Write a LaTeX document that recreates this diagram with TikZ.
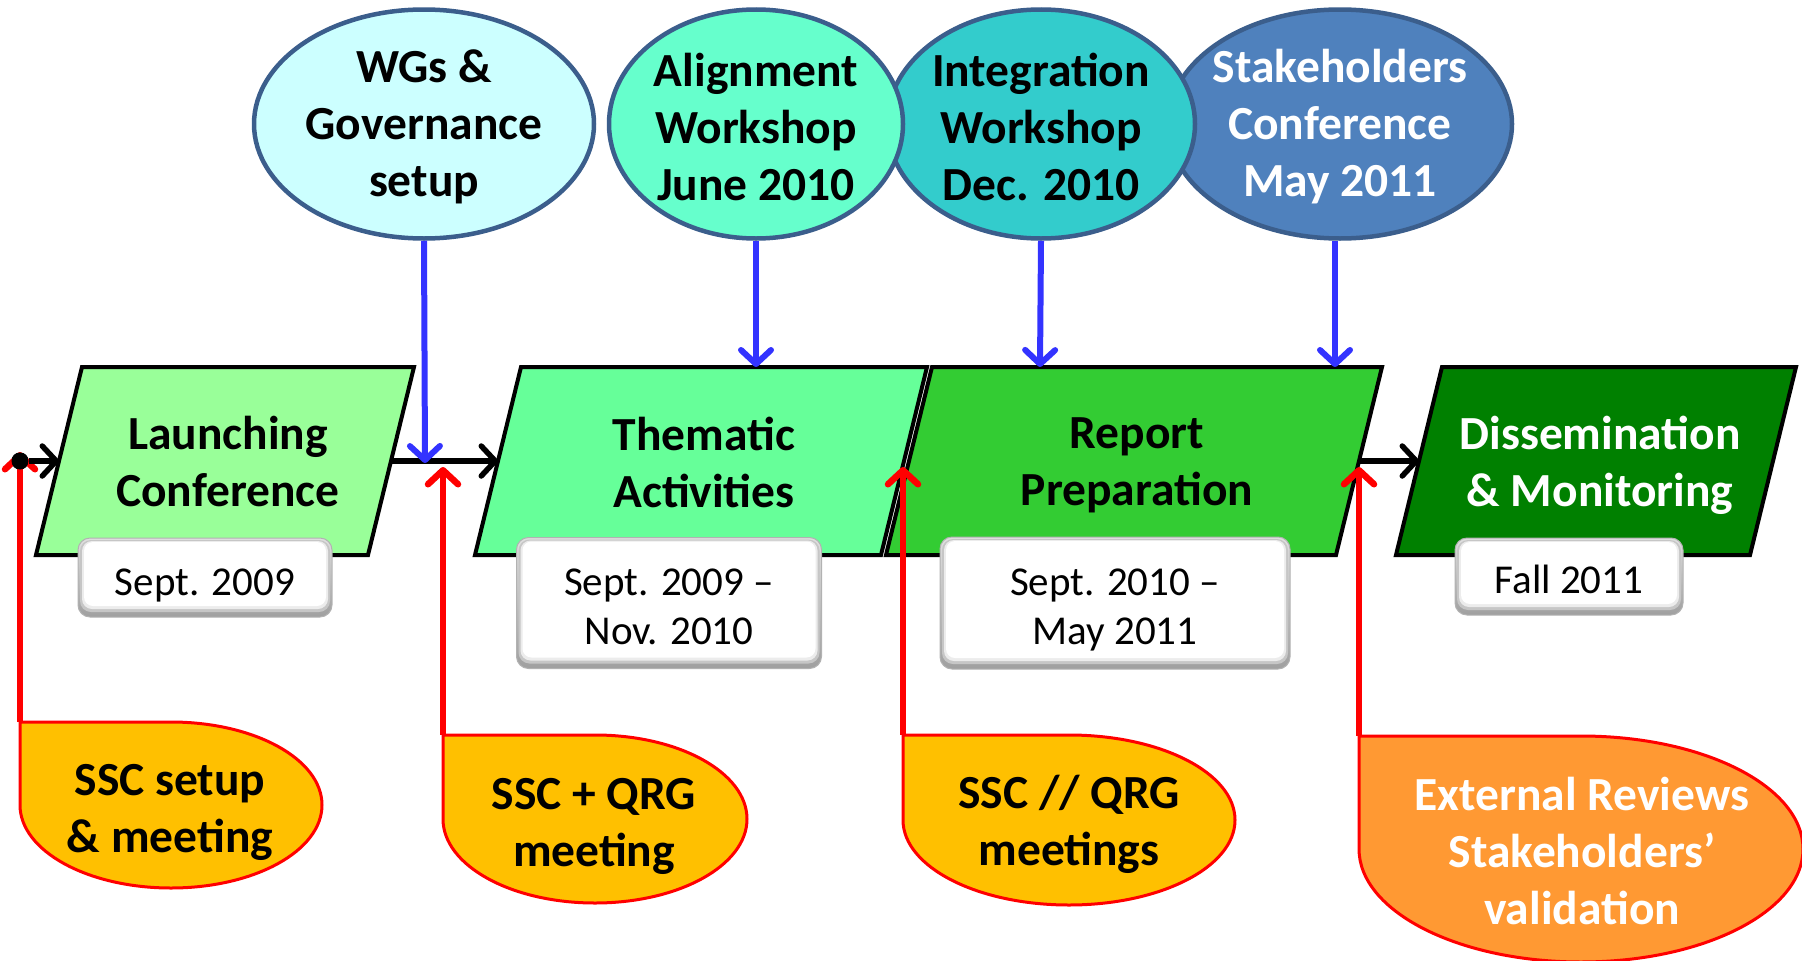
\documentclass[tikz,border=0pt]{standalone}
\usepackage{fontspec}
\setmainfont{Carlito}
\usetikzlibrary{arrows.meta,shapes.geometric}

\definecolor{cLaunch}{HTML}{99FF99}
\definecolor{cThem}{HTML}{66FF99}
\definecolor{cReport}{HTML}{33CC33}
\definecolor{cDissem}{HTML}{008000}
\definecolor{cWG}{HTML}{CCFFFF}
\definecolor{cAlign}{HTML}{66FFCC}
\definecolor{cInteg}{HTML}{33CCCC}
\definecolor{cStake}{HTML}{4F81BD}
\definecolor{cEvLine}{HTML}{3B5E8C}
\definecolor{cGold}{HTML}{FFC000}
\definecolor{cOrange}{HTML}{FF9933}
\definecolor{cBlue}{HTML}{3333FF}
\definecolor{cRed}{HTML}{FF0000}

\begin{document}
\begin{tikzpicture}[x=1pt,y=-1pt,
  phase/.style={draw=black,line width=4pt,line join=miter},
  bigtext/.style={font=\fontsize{47.5}{57}\selectfont\bfseries,align=center,inner sep=0pt},
  datetext/.style={font=\fontsize{41}{49}\selectfont,align=center,inner sep=0pt},
  event/.style={ellipse,draw=cEvLine,line width=4.5pt,inner sep=0pt},
  callout/.style={draw=cRed,line width=3pt},
  datebox/.style={rounded corners=12pt,draw=gray!60,line width=1pt,
    top color=gray!25,bottom color=gray!75,inner sep=0pt,
    path picture={
      \fill[gray!45,rounded corners=11pt]
        ([xshift=2pt,yshift=-2pt]path picture bounding box.north west) rectangle
        ([xshift=-2pt,yshift=5pt]path picture bounding box.south east);
      \fill[gray!15,rounded corners=10pt]
        ([xshift=4pt,yshift=-3pt]path picture bounding box.north west) rectangle
        ([xshift=-4pt,yshift=8pt]path picture bounding box.south east);
      \fill[white,rounded corners=9pt]
        ([xshift=6pt,yshift=-4pt]path picture bounding box.north west) rectangle
        ([xshift=-6pt,yshift=11pt]path picture bounding box.south east);
    }},
  tip/.style={-{Straight Barb[length=14pt,width=30pt,round]}},
  flow/.style={tip,draw=black,line width=5.5pt},
  feed/.style={tip,draw=cBlue,line width=6pt},
  review/.style={tip,draw=cRed,line width=6.5pt}
]
\useasboundingbox (0,0) rectangle (1802,961);

% ---------- phases (parallelograms) ----------
\filldraw[phase,fill=cLaunch] (36,555) -- (368,555) -- (414,367) -- (82,367) -- cycle;
\filldraw[phase,fill=cThem]   (475,555) -- (881,555) -- (927,367) -- (521,367) -- cycle;
\filldraw[phase,fill=cReport] (886,555) -- (1336,555) -- (1382,367) -- (932,367) -- cycle;
\filldraw[phase,fill=cDissem] (1396,555) -- (1750,555) -- (1796,367) -- (1442,367) -- cycle;

\node[bigtext] (p1) at (228,462) {Launching\\Conference};
\node[bigtext] (p2) at (704,462) {Thematic\\Activities};
\node[bigtext] (p3) at (1137,465) {Report\\Preparation};
\node[bigtext,text=white] (p4) at (1600,465) {Dissemination\\\& Monitoring};

% entry / exit points on the slanted sides
\coordinate (p1-in)  at (59,461);
\coordinate (p1-out) at (391,461);
\coordinate (p2-in)  at (498,461);
\coordinate (p3-out) at (1359,461);
\coordinate (p4-in)  at (1419,461);

% ---------- dates ----------
\node[datebox,minimum width=254,minimum height=79,
  label={[datetext,yshift=-8pt]center:Sept. 2009}] (d1) at (205,577.5) {};
\node[datebox,minimum width=305,minimum height=131,
  label={[datetext,yshift=-4pt]center:Sept. 2009 –\\Nov. 2010}] (d2) at (669,603) {};
\node[datebox,minimum width=350,minimum height=132,
  label={[datetext,yshift=-7pt]center:Sept. 2010 –\\May 2011}] (d3) at (1115,603) {};
\node[datebox,minimum width=228,minimum height=77,
  label={[datetext,yshift=-3pt]center:Fall 2011}] (d4) at (1569,576.5) {};

% ---------- events (ellipses) ----------
\node[event,fill=cStake,minimum width=344,minimum height=229,
  label={[bigtext,text=white,yshift=-3pt]center:Stakeholders\\Conference\\May 2011}] (e4) at (1340,124) {};
\node[event,fill=cInteg,minimum width=308,minimum height=229,
  label={[bigtext,yshift=-3pt]center:Integration\\Workshop\\Dec. 2010}] (e3) at (1041,124) {};
\node[event,fill=cAlign,minimum width=294,minimum height=229,
  label={[bigtext,yshift=-3pt]center:Alignment\\Workshop\\June 2010}] (e2) at (756,124) {};
\node[event,fill=cWG,minimum width=340,minimum height=229,
  label={[bigtext,yshift=-3pt]center:WGs \&\\Governance\\setup}] (e1) at (424,124) {};

\coordinate (j1) at (425,463);
\coordinate (t2) at (756,367);
\coordinate (t3) at (1040,367);
\coordinate (t4) at (1335,367);

% ---------- reviews (callouts) ----------
\coordinate (c1-corner) at (20,722);
\coordinate (c2-corner) at (443,735);
\coordinate (c3-corner) at (903,735);
\coordinate (c4-corner) at (1359,736);

\filldraw[callout,fill=cGold] (c1-corner) -- (171,722)
  arc[start angle=90,end angle=-180,x radius=151pt,y radius=83pt] -- cycle;
\filldraw[callout,fill=cGold] (c2-corner) -- (595,735)
  arc[start angle=90,end angle=-180,x radius=152pt,y radius=84pt] -- cycle;
\filldraw[callout,fill=cGold] (c3-corner) -- (1069,735)
  arc[start angle=90,end angle=-180,x radius=166pt,y radius=85pt] -- cycle;
\filldraw[callout,fill=cOrange] (c4-corner) -- (1581,736)
  arc[start angle=90,end angle=-180,x radius=222pt,y radius=113pt] -- cycle;

\node[bigtext] (c1) at (170,812) {SSC setup\\\& meeting};
\node[bigtext] (c2) at (594,826) {SSC + QRG\\meeting};
\node[bigtext] (c3) at (1069,824) {SSC // QRG\\meetings};
\node[bigtext,text=white] (c4) at (1582,851) {External Reviews\\Stakeholders’\\validation};

\coordinate (r1) at (20,452);
\coordinate (r2) at (443,467);
\coordinate (r3) at (903,467);
\coordinate (r4) at (1359,467);

% ---------- connectors ----------
\node[circle,fill=black,minimum size=17pt,inner sep=0pt] (start) at (20,461) {};

\draw[review] (c1-corner) -- (r1);
\draw[review] (c2-corner) -- (r2);
\draw[review] (c3-corner) -- (r3);
\draw[review] (c4-corner) -- (r4);

\draw[flow] (start) -- (p1-in);
\draw[flow] (p1-out) -- (p2-in);
\draw[flow] (p3-out) -- (p4-in);

\draw[feed] (e1.south) -- (j1);
\draw[feed] (e2.south) -- (t2);
\draw[feed] (e3.south) -- (t3);
\draw[feed] (e4.south -| t4) -- (t4);

\node[circle,fill=black,minimum size=17pt,inner sep=0pt] at (start) {};
\end{tikzpicture}
\end{document}
